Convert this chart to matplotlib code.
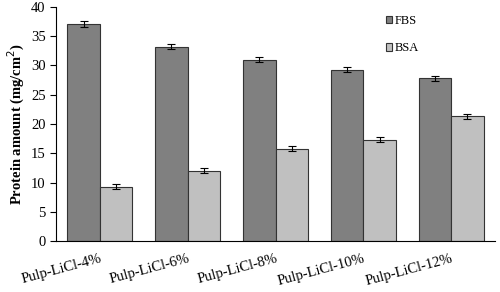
import matplotlib
matplotlib.use("Agg")
import matplotlib.pyplot as plt
import numpy as np

categories = ["Pulp-LiCl-4%", "Pulp-LiCl-6%", "Pulp-LiCl-8%", "Pulp-LiCl-10%", "Pulp-LiCl-12%"]
fbs = [37.1, 33.2, 31.0, 29.3, 27.8]
fbs_err = [0.45, 0.45, 0.45, 0.45, 0.45]
bsa = [9.3, 12.0, 15.8, 17.3, 21.3]
bsa_err = [0.45, 0.45, 0.45, 0.45, 0.45]
yticks = [0, 5, 10, 15, 20, 25, 30, 35, 40]

plt.rcParams['font.family'] = ['Liberation Serif', 'DejaVu Serif']

fig = plt.figure(figsize=(5.0, 2.92), dpi=100)
ax = fig.add_axes([56/500, 1-241/292, 439/500, 234/292])

x = np.arange(len(categories))
w = 0.37
ax.bar(x - w/2, fbs, w, color="#808080", edgecolor="#333333", linewidth=0.8,
       yerr=fbs_err, capsize=3, error_kw=dict(elinewidth=0.8, capthick=0.8, ecolor="black"), label="FBS")
ax.bar(x + w/2, bsa, w, color="#c0c0c0", edgecolor="#333333", linewidth=0.8,
       yerr=bsa_err, capsize=3, error_kw=dict(elinewidth=0.8, capthick=0.8, ecolor="black"), label="BSA")

ax.set_xlim(-0.5, 4.5)
ax.set_ylim(0, 40)
ax.set_yticks(yticks)
ax.set_xticks(x)
ax.set_xticklabels(categories, rotation=15, ha="right", va="top", rotation_mode="anchor", fontsize=10.5)
ax.tick_params(axis='x', length=0, pad=8)
ax.tick_params(axis='y', labelsize=10.5, length=4, direction='out', width=0.8)
for s in ["top", "right"]:
    ax.spines[s].set_visible(False)
ax.spines["left"].set_linewidth(0.8)
ax.spines["bottom"].set_linewidth(0.8)
ax.set_ylabel("Protein amount (mg/cm$^{2}$)", fontsize=10.5, fontweight="bold", labelpad=3)

leg = ax.legend(loc="upper left", bbox_to_anchor=(0.725, 1.015), frameon=False, fontsize=9,
                handlelength=0.55, handleheight=0.55, handletextpad=0.15, labelspacing=1.25)

fig.savefig("out.png", dpi=100)
